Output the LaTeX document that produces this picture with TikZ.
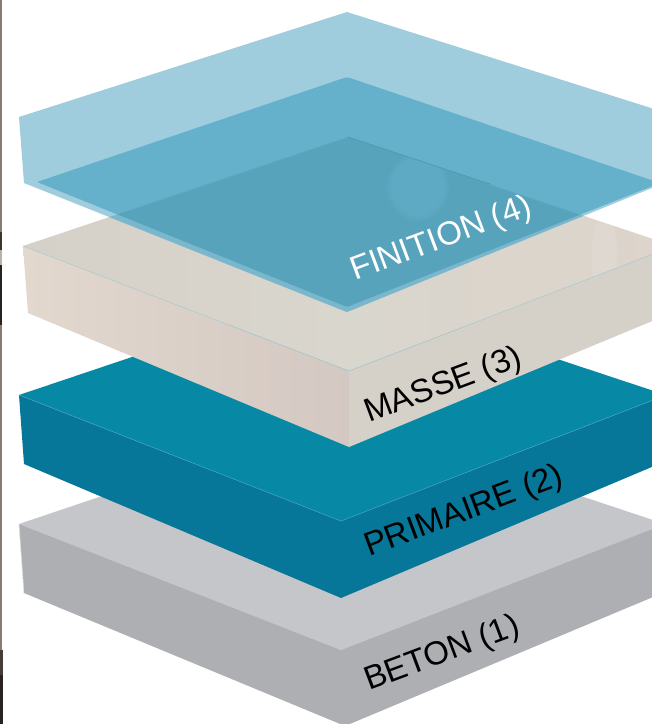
\documentclass[tikz,border=0pt]{standalone}
\usepackage{fontspec}
\usetikzlibrary{fadings}
\setmainfont{Liberation Sans}
\definecolor{betontop}{RGB}{197,198,201}
\definecolor{betonface}{RGB}{174,175,179}
\definecolor{primtop}{RGB}{7,137,166}
\definecolor{primface}{RGB}{6,119,153}
\definecolor{massetopa}{RGB}{214,209,200}
\definecolor{massetopb}{RGB}{217,214,205}
\definecolor{massetopc}{RGB}{221,212,203}
\definecolor{masseleftA}{RGB}{226,216,206}
\definecolor{masseleftB}{RGB}{212,200,194}
\definecolor{masseright}{RGB}{213,209,201}
\definecolor{masseedge}{RGB}{163,200,207}
\definecolor{plateout}{RGB}{159,205,221}
\definecolor{plateinner}{RGB}{101,176,202}
\definecolor{platefringe}{RGB}{122,183,205}
\definecolor{platedeep}{RGB}{88,163,188}
\definecolor{stripA}{RGB}{135,125,110}
\definecolor{stripB}{RGB}{40,35,32}
\tikzset{
  layerlabel/.style={anchor=base west,inner sep=0pt,font=\fontsize{33}{33}\selectfont,rotate=20.5,text=black},
  edgeline/.style={draw=#1,line width=0.5pt},
}
\begin{document}
\begin{tikzpicture}[x=1pt,y=-1pt]
\useasboundingbox (0,0) rectangle (652,724);
\clip (0,0) rectangle (652,724);
\fill[white] (0,0) rectangle (652,724);
% left strip
\fill[stripA] (0,0) rectangle (2.2,724);
\fill[stripB!80!stripA] (0,232) rectangle (2.2,250);
\fill[stripB] (0,265) rectangle (2.4,325);
\fill[stripA!60!white] (0,250) rectangle (1.6,265);
\fill[stripB!70!stripA] (0,650) rectangle (3,675);
\fill[stripB] (0,675) rectangle (3.2,724);
% BETON
\fill[betontop] (19,524) -- (340,416) -- (665,524) -- (341,650) -- cycle;
\fill[betonface] (19,524) -- (341,650) -- (665,524) -- (665,592) -- (345,726) -- (24,593) -- cycle;
\draw[edgeline=betontop!60!white] (19,524) -- (24,593);
% PRIMAIRE
\fill[primtop] (19,395) -- (340,287) -- (666,395) -- (341,521) -- cycle;
\fill[primface] (19,395) -- (341,521) -- (666,395) -- (666,461) -- (341,598) -- (24,464) -- cycle;
\draw[edgeline=primtop!75!white] (19,395) -- (341,521) -- (666,395);
% MASSE
\shade[left color=massetopa,right color=massetopc,middle color=massetopb]
  (23,246) -- (348,137) -- (674,246) -- (349,371) -- cycle;
\shade[left color=masseleftA,right color=masseleftB]
  (23,246) -- (349,371) -- (349,447) -- (28,313) -- cycle;
\fill[masseright] (349,371) -- (674,246) -- (674,312) -- (349,447) -- cycle;
\begin{scope}
  \clip (23,246) -- (348,137) -- (674,246) -- (349,371) -- cycle;
  \fill[white,opacity=.1,path fading=circle with fuzzy edge 20 percent] (590,205) rectangle (618,305);
\end{scope}
\draw[edgeline=masseedge] (23,246) -- (349,371) -- (674,246);
% FINITION sheet, over white
\fill[plateout] (19,117) -- (347,12) -- (670,114) -- (652,188) -- (347,312) -- (24,183) -- cycle;
\fill[plateinner,rounded corners=2pt] (37,182) -- (347,77) -- (660,183) -- (347,307) -- cycle;
% FINITION sheet, over the MASSE top
\begin{scope}
  \clip (23,246) -- (348,137) -- (674,246) -- (349,371) -- cycle;
  \fill[platefringe] (19,117) -- (347,12) -- (670,114) -- (652,188) -- (347,312) -- (24,183) -- cycle;
  \fill[platedeep,rounded corners=2pt] (37,182) -- (347,77) -- (660,183) -- (347,307) -- cycle;
  \fill[plateinner,opacity=.5,path fading=circle with fuzzy edge 20 percent] (385,152) rectangle (450,222);
\end{scope}
\draw[edgeline=platedeep!88!black] (348,137) -- (490,184);
% labels
\node[layerlabel,text=white] (finition) at (355,281) {FINITION (4)};
\node[layerlabel] (masse) at (369,423) {MASSE (3)};
\node[layerlabel] (primaire) at (369,557) {PRIMAIRE (2)};
\node[layerlabel] (beton) at (369,691) {BETON (1)};
\end{tikzpicture}
\end{document}
